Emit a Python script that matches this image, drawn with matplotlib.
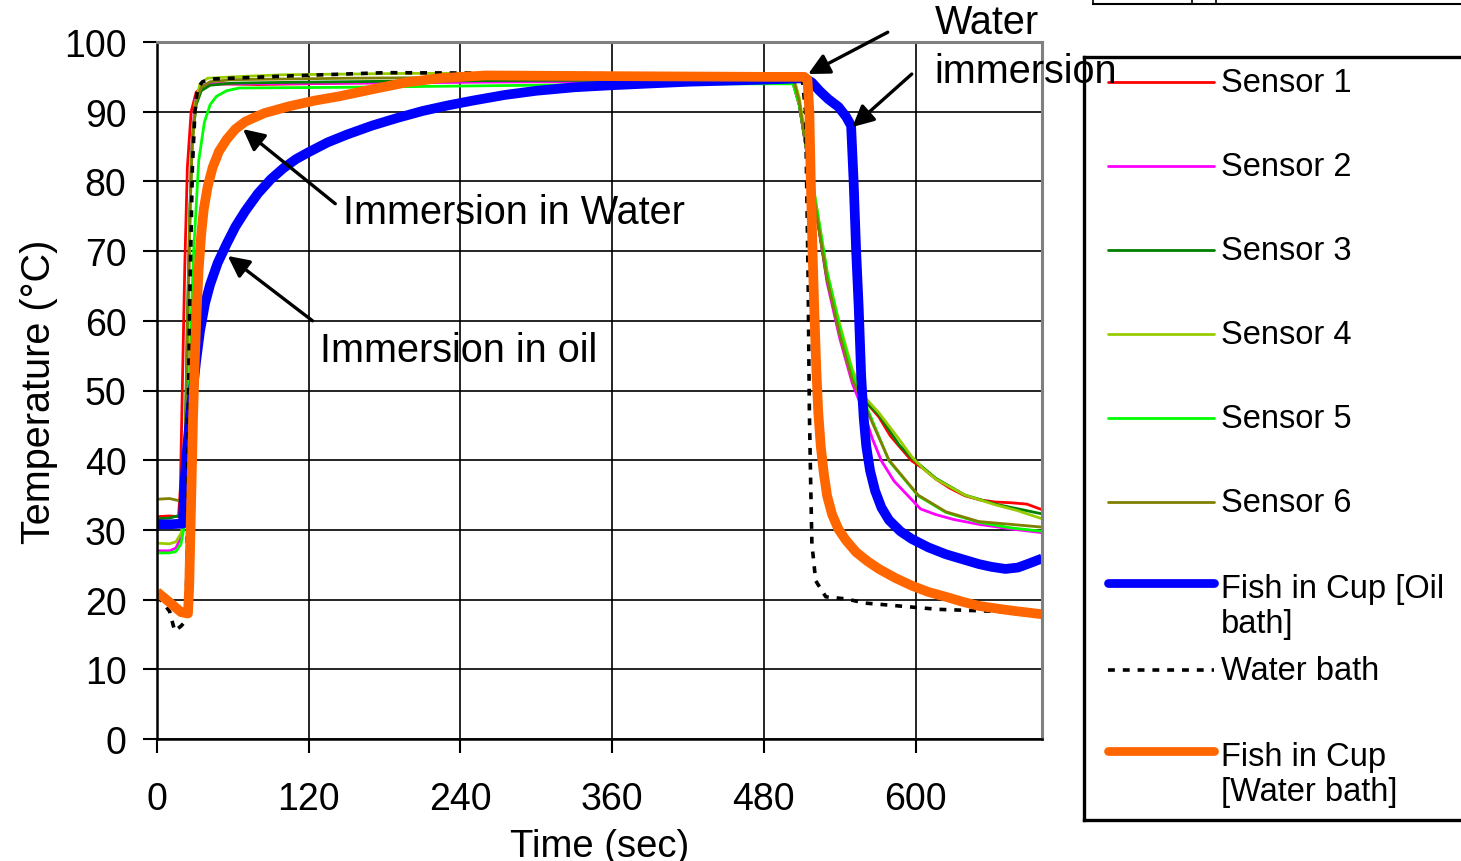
import matplotlib
matplotlib.use("Agg")
import matplotlib.pyplot as plt
from matplotlib.lines import Line2D

plt.rcParams['font.family'] = ['Liberation Sans', 'DejaVu Sans']

# ---- data ----
s1_t = [0, 10, 17, 18.5, 20, 22, 24, 27, 31, 38, 50, 80, 150, 250, 350, 450, 503, 508, 515, 522, 530, 540, 550, 560, 571,
        580, 587, 597, 606, 616, 627, 639, 651, 663, 675, 688, 700]
s1_v = [31.9, 32.0, 31.9, 36, 50, 68, 82, 90, 92.8, 93.8, 94.0, 93.9, 94.1, 94.3, 94.3, 94.2, 94.2, 91, 83, 75, 66, 58.5,
        52.5, 48.5, 46.2, 43.5, 42, 39.9, 38.8, 37.3, 36, 34.9, 34.3, 34, 33.9, 33.7, 32.9]

s2_t = [0, 10, 15, 19, 21, 23, 25, 27, 30, 34, 40, 60, 150, 300, 400, 503, 508, 515, 522, 530, 540, 550, 559, 566, 573,
        583, 594, 604, 616, 630, 650, 677, 700]
s2_v = [27, 27, 27.4, 29, 31, 45, 65, 83, 91.5, 93.5, 94, 94, 94.1, 94.3, 94.3, 94.2, 91, 83, 75, 65.5, 57.5, 51, 46.9,
        43, 39.9, 37, 34.9, 33, 32.2, 31.5, 30.8, 30.1, 29.6]

s3_t = [0, 10, 20, 22, 24, 26, 28, 31, 35, 42, 60, 100, 200, 300, 400, 503, 508, 515, 522, 530, 540, 550, 560, 571, 587,
        597, 616, 639, 663, 700]
s3_v = [31.6, 31.7, 32.2, 40, 60, 76, 86, 91, 93, 93.8, 94.1, 94.2, 94.4, 94.5, 94.5, 94.4, 91, 83, 75, 66, 58.5, 52.3,
        48.5, 46.5, 42.2, 40.3, 37.4, 35, 33.7, 32.3]

s4_t = [0, 10, 15, 19, 21, 23, 25, 27, 30, 34, 40, 60, 100, 200, 300, 400, 503, 508, 515, 522, 530, 540, 550, 560, 571,
        587, 597, 606, 616, 639, 663, 680, 700]
s4_v = [28.1, 28, 28.3, 29.5, 31, 45, 65, 82, 91, 94, 94.8, 95, 95.3, 95.5, 95.5, 95.4, 95.3, 92, 84, 76, 67, 59.5, 53,
        49, 46.8, 43, 40.5, 38.8, 37.3, 35, 33.6, 32.8, 31.6]

s5_t = [0, 10, 15, 19, 21, 24, 27, 29, 33, 37.5, 42, 47, 55, 65, 150, 300, 400, 503, 508, 515, 522, 530, 540, 550, 563,
        579, 602, 624, 650, 675, 700]
s5_v = [26.7, 26.7, 26.9, 28, 30, 40, 60, 70, 83, 88.5, 91, 92.2, 93, 93.4, 93.5, 93.8, 94, 94, 91, 83.5, 76, 67, 59,
        52.3, 46.9, 39.9, 34.9, 32.5, 31.1, 30.3, 29.8]

s6_t = [0, 10, 17, 20, 22, 24, 26, 28, 31, 35, 42, 60, 150, 300, 400, 503, 508, 515, 522, 530, 540, 550, 563, 579, 602,
        624, 650, 675, 700]
s6_v = [34.4, 34.5, 34.2, 34, 40, 58, 75, 86, 91.5, 93.5, 94.3, 94.6, 94.8, 95, 95, 94.9, 91.5, 83, 75, 66, 58, 51.5,
        46.5, 40, 35, 32.6, 31.2, 30.8, 30.4]

oil_t = [0, 10, 20.5, 21.5, 23, 25, 27, 29, 31, 34, 38, 42, 48, 55, 62, 70, 80, 90, 100, 110, 120, 135, 150, 170, 190,
         210, 230, 250, 275, 300, 330, 360, 420, 480, 512, 518, 524, 531, 539, 545, 549, 551, 553, 555, 557, 559, 561,
         564, 568, 573, 579, 588, 597, 610, 624, 637, 650, 660, 671, 681, 690, 700]
oil_v = [30.8, 30.8, 30.9, 36, 40, 44, 48, 51, 54.3, 58.5, 62.5, 65.2, 68.3, 71, 73.5, 75.8, 78.3, 80.3, 81.9, 83.2,
         84.2, 85.6, 86.7, 88, 89.1, 90.1, 90.9, 91.6, 92.4, 93, 93.5, 93.8, 94.3, 94.6, 94.8, 94.2, 93, 91.8, 90.7,
         89.3, 88, 80, 70, 62, 52, 46, 42, 38.5, 35.6, 33.2, 31.4, 29.8, 28.7, 27.5, 26.5, 25.8, 25.1, 24.7, 24.4, 24.6,
         25.2, 25.9]

bath_t = [0, 5, 10, 14, 19, 23, 24, 25, 26, 28, 30, 32, 36, 45, 100, 180, 300, 400, 510, 513, 515, 516, 517, 518, 521,
          529, 545, 560, 586, 618, 650, 680, 700]
bath_v = [20.5, 19.5, 18.3, 15.5, 16.2, 17.0, 30, 50, 64, 82, 90, 93.3, 94.3, 94.7, 95.1, 95.6, 95.5, 95.4, 95.3, 90,
          66, 47, 37, 28, 22.7, 20.4, 20.1, 19.5, 19.1, 18.6, 18.4, 18.2, 18.0]

water_t = [0, 10, 19, 24.5, 25.5, 26.5, 27.5, 28.5, 30, 31.5, 33, 35, 37, 40, 44, 49, 55, 62, 70, 85, 105, 125, 144,
           170, 197, 223, 260, 360, 480, 512, 514.5, 516, 517, 518.5, 520, 521.5, 523, 525, 527.5, 530, 534, 539, 545,
           553, 562, 571, 584, 597, 610, 624, 637, 650, 665, 677, 700]
water_v = [21.1, 19.6, 18.2, 18.0, 22, 30, 38, 46, 55, 62, 67.5, 72.5, 76, 79.2, 82, 84.3, 86, 87.5, 88.6, 89.8, 90.8,
           91.6, 92.2, 93.2, 94.2, 94.8, 95.2, 95.1, 95, 95, 94.6, 90, 81, 70, 61, 53, 47, 42, 38, 34.9, 32.2, 30.1,
           28.5, 26.8, 25.5, 24.4, 23.1, 22, 21.1, 20.4, 19.7, 19.1, 18.7, 18.4, 17.9]

labels = ["Sensor 1", "Sensor 2", "Sensor 3", "Sensor 4", "Sensor 5", "Sensor 6",
          "Fish in Cup [Oil\nbath]", "Water bath", "Fish in Cup\n[Water bath]"]
series = [(s1_t, s1_v), (s2_t, s2_v), (s3_t, s3_v), (s4_t, s4_v), (s5_t, s5_v), (s6_t, s6_v),
          (oil_t, oil_v), (bath_t, bath_v), (water_t, water_v)]
colors = ['#FF0000', '#FF00FF', '#008000', '#99CC00', '#00FF00', '#808000', '#0000FF', '#000000', '#FF6600']
widths = [2.0, 2.0, 2.0, 2.0, 2.0, 2.0, 7, 2.6, 7]
styles = ['-'] * 6 + ['-', (0, (1.9, 2.2)), '-']

W, H = 1461, 862
fig = plt.figure(figsize=(W / 100, H / 100), dpi=100)
ax = fig.add_axes([157 / W, 1 - 740 / H, 885 / W, 697 / H])
ax.set_zorder(2)

for (t, v), c, lw, ls in zip(series, colors, widths, styles):
    ax.plot(t, v, color=c, lw=lw, ls=ls, solid_capstyle='butt', solid_joinstyle='round')

ax.set_xlim(0, 700)
ax.set_ylim(0, 100)
ax.set_xticks(range(0, 601, 120))
ax.set_yticks(range(0, 101, 10))
ax.grid(True, color='black', lw=1.2)
ax.set_axisbelow(True)
ax.tick_params(axis='both', labelsize=27, direction='out', length=10, width=1.5)
ax.tick_params(axis='y', pad=12)
ax.tick_params(axis='x', pad=20)
for side in ['top', 'right']:
    ax.spines[side].set_color('#808080')
    ax.spines[side].set_linewidth(2.2)
for side in ['left', 'bottom']:
    ax.spines[side].set_linewidth(1.8)
ax.set_xlabel("Time (sec)", fontsize=27.5, labelpad=8)
ax.set_ylabel("Temperature (°C)", fontsize=28.5, labelpad=4)

# annotations
arrow = dict(arrowstyle='-|>', lw=2.4, color='black', mutation_scale=32, shrinkA=0, shrinkB=0)
ax.annotate("", xy=(68, 87.5), xytext=(141, 76.8), arrowprops=arrow, annotation_clip=False)
ax.annotate("", xy=(56, 69.3), xytext=(123, 60), arrowprops=arrow, annotation_clip=False)
ax.annotate("", xy=(515, 95.4), xytext=(578, 101.4), arrowprops=arrow, annotation_clip=False)
ax.annotate("", xy=(550, 87.8), xytext=(597, 95.4), arrowprops=arrow, annotation_clip=False)
ax.text(147, 75.6, "Immersion in Water", fontsize=28.5, va='center', ha='left')
ax.text(129, 55.8, "Immersion in oil", fontsize=28.5, va='center', ha='left')
ax.text(615, 102.9, "Water", fontsize=28.5, va='center', ha='left', clip_on=False)
ax.text(615, 95.8, "immersion", fontsize=28.5, va='center', ha='left', clip_on=False)

# legend box, drawn by hand in pixel coordinates
lax = fig.add_axes([1084 / W, 1 - 821 / H, (1480 - 1084) / W, (821 - 58) / H])
lax.set_zorder(1)
lax.set_xlim(1084, 1480)
lax.set_ylim(821, 58)
lax.set_xticks([])
lax.set_yticks([])
for sp in lax.spines.values():
    sp.set_linewidth(2.4)
line_y = [83, 167, 251, 335, 419, 503, 584, 671, 752]
text_y = [84, 168, 252, 336, 420, 504, 607, 672, 775]
for lab, c, lw, ls, ly, ty in zip(labels, colors, widths, styles, line_y, text_y):
    lax.plot([1108, 1214], [ly, ly], color=c, lw=lw * 0.9 if lw > 5 else lw, ls=ls, solid_capstyle='round')
    lax.text(1221, ty, lab, fontsize=23.5, va='center', ha='left', linespacing=1.15)

# bits of a neighbouring table visible at the top right
fig.add_artist(Line2D([1093 / W, 1], [1 - 5 / H, 1 - 5 / H], color='black', lw=1.5))
for xp in [1093, 1192, 1216]:
    fig.add_artist(Line2D([xp / W, xp / W], [1 - 5 / H, 1], color='black', lw=1.2))

fig.savefig("out.png", dpi=100)
